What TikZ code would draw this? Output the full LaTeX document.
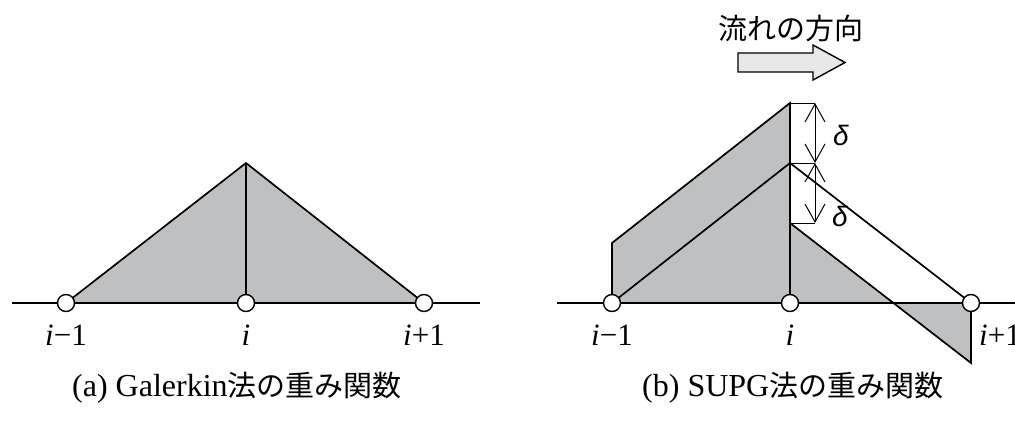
\documentclass[tikz,border=0pt]{standalone}
\usepackage{fontspec}
\setmainfont{Liberation Serif}
\newfontfamily\jpfont{Noto Sans CJK JP}
\newfontfamily\deltafont{Liberation Sans}
\usetikzlibrary{arrows.meta,positioning}
\definecolor{shadegray}{RGB}{190,192,194}
\definecolor{flowgray}{RGB}{232,232,232}

\begin{document}
\begin{tikzpicture}[x=1pt,y=-1pt,
    ln/.style={line width=1.7pt,black,line join=miter},
    grayfill/.style={fill=shadegray},
    knot/.style={circle,draw,line width=1.4pt,fill=white,
                 minimum size=17pt,inner sep=0pt},
    idx/.style={anchor=base,inner sep=0pt,font=\fontsize{31}{33}\selectfont},
    captext/.style={anchor=base west,inner sep=0pt,font=\fontsize{32}{34}\selectfont},
    dimtick/.style={line width=1pt},
    dimarr/.style={line width=1pt,
                {Straight Barb[length=18pt,width=20pt]}-{Straight Barb[length=18pt,width=20pt]}},
    dlab/.style={font=\deltafont\itshape\fontsize{28}{30}\selectfont,inner sep=0pt},
  ]
  \useasboundingbox (0,0) rectangle (1015,423);

  % (a) Galerkin
  \coordinate (a1) at (66,303);
  \coordinate (a2) at (246,303);
  \coordinate (a3) at (424,303);
  \coordinate (at) at (246,163);
  \fill[grayfill] (a1)--(at)--(a3)--cycle;
  \draw[ln] (12,303)--(480,303);
  \draw[ln] (a1)--(at)--(a3);
  \draw[ln] (at)--(a2);
  \node[knot] (na1) at (a1) {};
  \node[knot] (na2) at (a2) {};
  \node[knot] (na3) at (a3) {};
  \node[idx] (la1) at (66,345) {\textit{i}−1};
  \node[idx] (la2) at (246,345) {\textit{i}};
  \node[idx] (la3) at (424,345) {\textit{i}+1};

  % (b) SUPG
  \coordinate (b1) at (612,303);
  \coordinate (b2) at (790,303);
  \coordinate (b3) at (971,303);
  \coordinate (u0) at (612,243);
  \coordinate (u1) at (790,103);
  \coordinate (bm) at (790,163);
  \coordinate (bl) at (790,223);
  \coordinate (bx) at (893,303);
  \coordinate (bd) at (971,363);
  \fill[grayfill] (b1)--(u0)--(u1)--(b2)--cycle;
  \fill[grayfill] (bl)--(b2)--(bx)--cycle;
  \fill[grayfill] (bx)--(b3)--(bd)--cycle;
  \draw[ln] (557,303)--(1020,303);
  \draw[ln] (b1)--(u0)--(u1)--(b2);
  \draw[ln] (b1)--(bm)--(b3);
  \draw[ln] (bl)--(bd)--(b3);
  \node[knot] (nb1) at (b1) {};
  \node[knot] (nb2) at (b2) {};
  \node[knot] (nb3) at (b3) {};
  \node[idx] (lb1) at (612,345) {\textit{i}−1};
  \node[idx] (lb2) at (790,345) {\textit{i}};
  \node[idx,anchor=base west] (lb3) at (979,345) {\textit{i}+1};

  % delta marks
  \coordinate (d0) at (815,103);
  \coordinate (d1) at (815,163);
  \coordinate (d2) at (815,223);
  \draw[dimtick] (u1)--(d0);
  \draw[dimtick] (bm)--(d1);
  \draw[dimtick] (bl)--(d2);
  \draw[dimarr] (d0)--(d1);
  \draw[dimarr] (d1)--(d2);
  \node[dlab] (del1) at (841,135) {δ};
  \node[dlab] (del2) at (840,216) {δ};

  % flow direction
  \node[font=\jpfont\fontsize{29}{31}\selectfont,inner sep=0pt] (flowtxt) at (791,28) {流れの方向};
  \draw[line width=1.4pt,fill=flowgray]
    (738,53)--(813,53)--(813,45)--(845,62.5)--(813,80)--(813,72)--(738,72)--cycle;

  % captions
  \node[captext] (capa) at (72,396)
    {(a) Galerkin{\jpfont\fontsize{29}{32}\selectfont 法の重み関数}};
  \node[captext] (capb) at (642,396)
    {(b) SUPG{\jpfont\fontsize{29}{32}\selectfont 法の重み関数}};
\end{tikzpicture}
\end{document}
